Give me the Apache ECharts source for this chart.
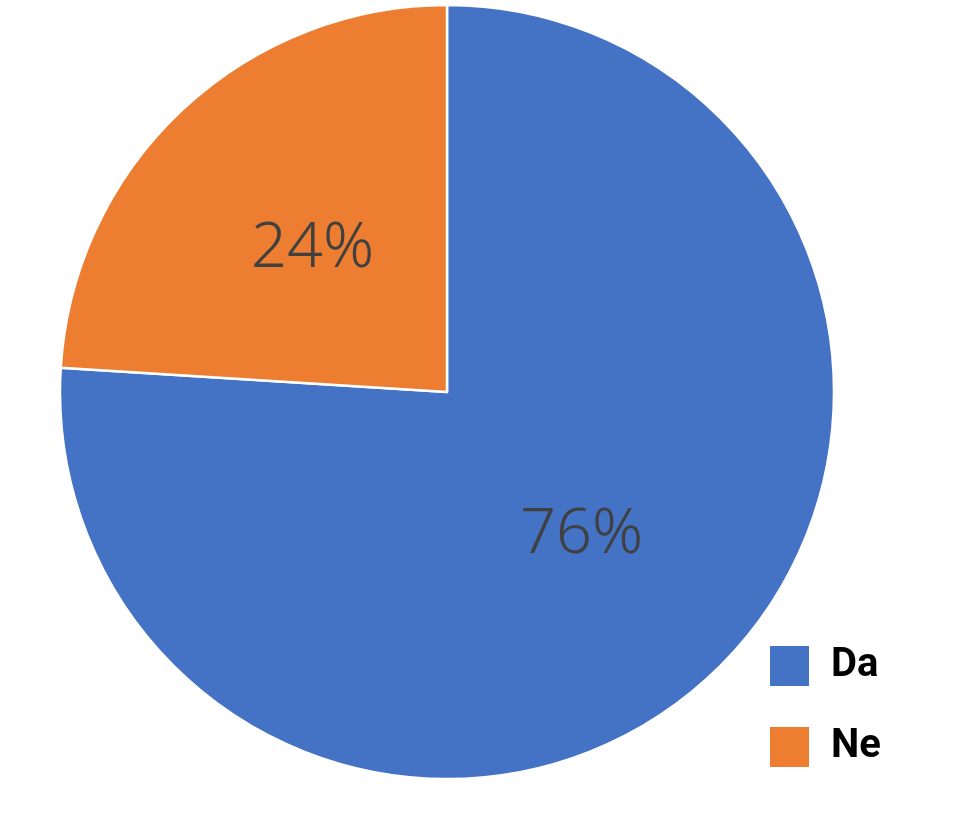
<!DOCTYPE html>
<html>
<head>
<meta charset="utf-8">
<script src="https://cdn.jsdelivr.net/npm/echarts@6/dist/echarts.min.js"></script>
<style>
html,body{margin:0;padding:0;background:#fff;}
#chart{width:969px;height:824px;}
</style>
</head>
<body>
<div id="chart"></div>
<script>
const categories = ['Da', 'Ne'];
const values = [76, 24];
const colors = ['#4472C4', '#ED7D31'];

const chart = echarts.init(document.getElementById('chart'), null, {renderer: 'canvas'});
chart.setOption({
  animation: false,
  backgroundColor: '#ffffff',
  color: colors,
  legend: {
    orient: 'vertical',
    left: 763,
    top: 639,
    itemWidth: 41,
    itemHeight: 42,
    itemGap: 37,
    icon: 'rect',
    data: categories,
    textStyle: {
      fontFamily: 'Roboto, "Noto Sans", sans-serif',
      fontWeight: 'bold',
      fontSize: 40,
      color: '#000000',
      padding: [0, 0, 0, 16]
    }
  },
  series: [{
    type: 'pie',
    center: [447, 392],
    radius: 387,
    startAngle: 90,
    clockwise: true,
    data: categories.map((c, i) => ({name: c, value: values[i]})),
    itemStyle: {borderColor: '#ffffff', borderWidth: 2.5},
    label: {
      show: true,
      position: 'inside',
      formatter: '{c}%',
      fontFamily: '"Noto Sans", sans-serif',
      fontWeight: 300,
      fontSize: 63,
      color: '#404040'
    },
    labelLine: {show: false},
    emphasis: {disabled: true}
  }]
});
</script>
</body>
</html>
